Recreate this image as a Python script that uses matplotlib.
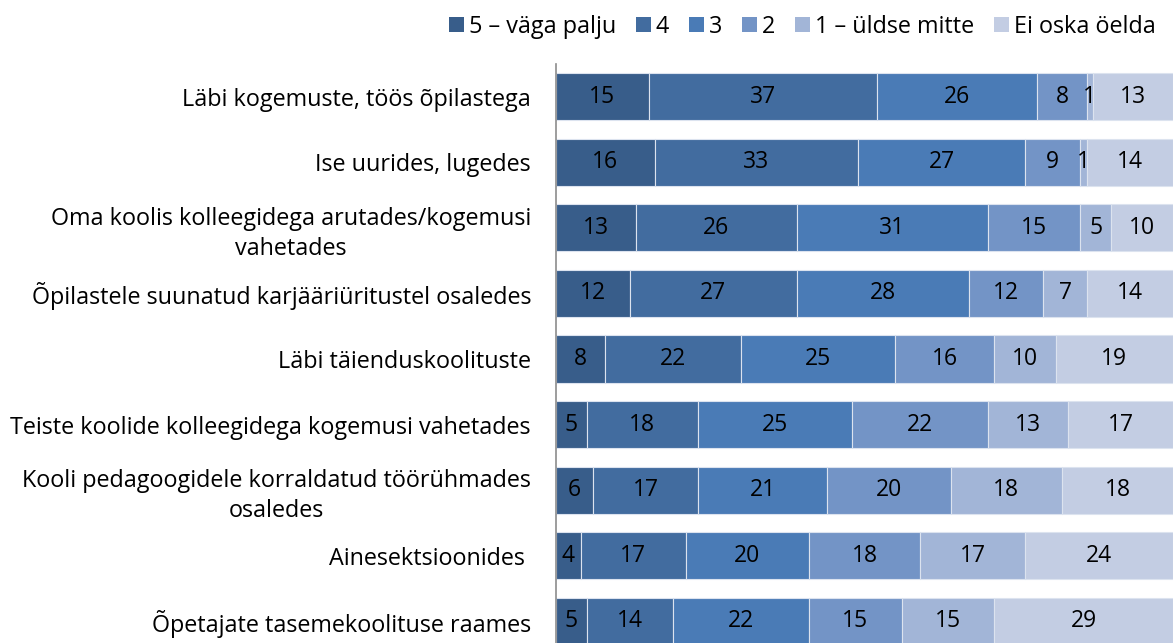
import numpy as np
import matplotlib.pyplot as plt
from matplotlib.patches import Patch

plt.rcParams['font.family'] = ['Open Sans', 'DejaVu Sans']

categories = [
    "Läbi kogemuste, töös õpilastega",
    "Ise uurides, lugedes",
    "Oma koolis kolleegidega arutades/kogemusi\nvahetades",
    "Õpilastele suunatud karjääriüritustel osaledes",
    "Läbi täienduskoolituste",
    "Teiste koolide kolleegidega kogemusi vahetades",
    "Kooli pedagoogidele korraldatud töörühmades\nosaledes",
    "Ainesektsioonides ",
    "Õpetajate tasemekoolituse raames",
]
series_names = ["5 – väga palju", "4", "3", "2", "1 – üldse mitte", "Ei oska öelda"]
s5 = [15, 16, 13, 12, 8, 5, 6, 4, 5]
s4 = [37, 33, 26, 27, 22, 18, 17, 17, 14]
s3 = [26, 27, 31, 28, 25, 25, 21, 20, 22]
s2 = [8, 9, 15, 12, 16, 22, 20, 18, 15]
s1 = [1, 1, 5, 7, 10, 13, 18, 17, 15]
s0 = [13, 14, 10, 14, 19, 17, 18, 24, 29]
colors = ["#385d8a", "#426c9f", "#4a7bb6", "#7394c6", "#a2b5d7", "#c3cde3"]

data = [s5, s4, s3, s2, s1, s0]
y = np.arange(len(categories))
fs = 16.8

W, H = 1173, 643
fig = plt.figure(figsize=(W / 100, H / 100), dpi=100)
ax = fig.add_axes([556 / W, (643 - 654) / H, (1173 - 556) / W, (654 - 64) / H])

left = np.zeros(len(categories))
for vals, col in zip(data, colors):
    vals = np.array(vals, dtype=float)
    ax.barh(y, vals, left=left, height=0.72, color=col,
            edgecolor="#dce3ef", linewidth=0.8)
    for yi, l, v in zip(y, left, vals):
        ax.text(l + v / 2, yi, f"{int(v)}", ha="center", va="center",
                fontsize=16.5, color="black")
    left += vals

ax.set_xlim(0, 100)
ax.set_ylim(8.5, -0.5)
ax.set_xticks([])
ax.set_yticks(y)
ax.set_yticklabels(categories, fontsize=fs, multialignment="center", linespacing=1.33)
ax.tick_params(axis="y", length=0, pad=18)
for side in ["top", "right", "bottom"]:
    ax.spines[side].set_visible(False)
ax.spines["left"].set_color("#8c8c8c")
ax.spines["left"].set_linewidth(1.2)

handles = [Patch(facecolor=c, edgecolor="none") for c in colors]
fig.legend(handles, series_names, loc="upper right", bbox_to_anchor=(0.995, 0.995),
           ncol=6, frameon=False, fontsize=fs, handlelength=0.65, handleheight=0.65,
           handletextpad=0.2, columnspacing=0.85, borderaxespad=0.1)

fig.savefig("out.png", dpi=100)
